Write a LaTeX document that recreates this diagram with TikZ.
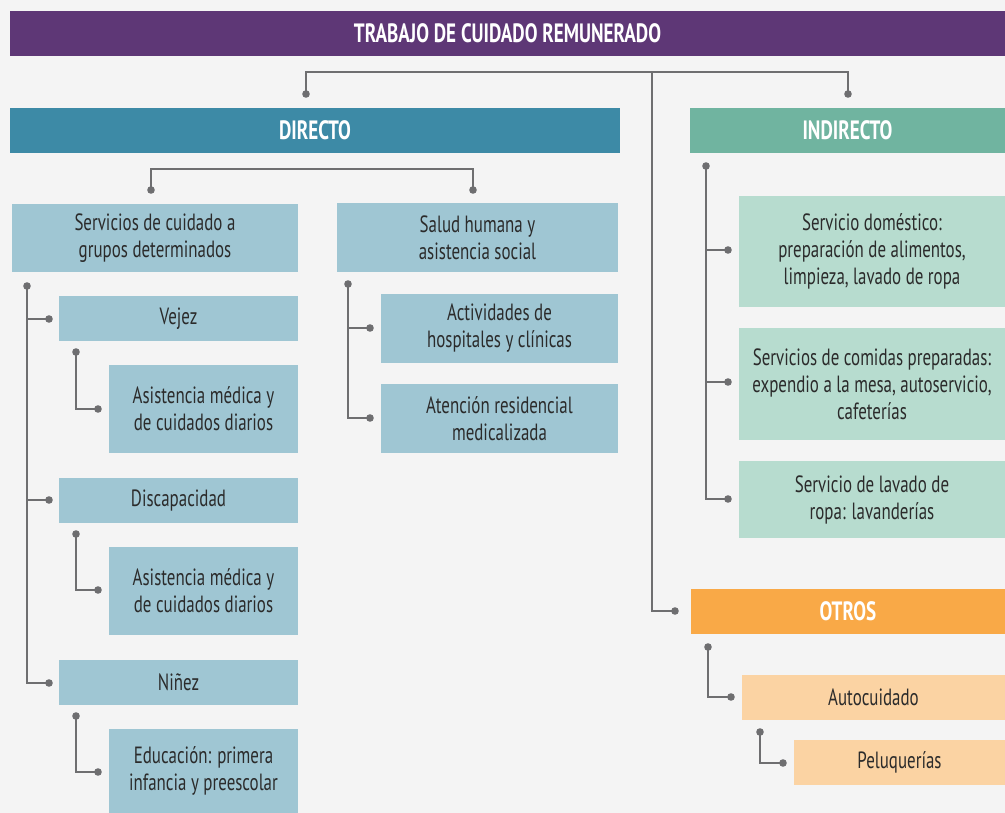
\documentclass[tikz,border=0pt]{standalone}
\usepackage{fontspec}
\setmainfont{PT Sans}[FakeStretch=0.72]
\usetikzlibrary{positioning}
\definecolor{bgc}{HTML}{F4F4F4}
\definecolor{purp}{HTML}{5E3776}
\definecolor{dirc}{HTML}{3D8AA6}
\definecolor{indc}{HTML}{70B4A0}
\definecolor{lblue}{HTML}{9FC6D3}
\definecolor{lgreen}{HTML}{B7DCCF}
\definecolor{orng}{HTML}{F9A947}
\definecolor{lorng}{HTML}{FBD3A3}
\definecolor{linec}{HTML}{6E6E70}
\definecolor{txtc}{HTML}{2B2B2B}
\tikzset{
  basebox/.style={inner sep=0pt, align=center, font=\fontsize{23.5}{27}\selectfont, text=txtc},
  headbox/.style={basebox, text=white, font=\bfseries\fontsize{26.5}{30}\selectfont},
  conn/.style={draw=linec, line width=2pt},
  dotc/.style={fill=linec},
}
\newcommand{\dotat}[1]{\fill[dotc] (#1) circle (3.8);}
\begin{document}
\begin{tikzpicture}[x=1pt,y=-1pt]
\fill[bgc] (0,0) rectangle (1005,813);
\useasboundingbox (0,0) rectangle (1005,813);

% boxes
\node[headbox, fill=purp, minimum width=995, minimum height=45] (title) at (507.5,33.5) {TRABAJO DE CUIDADO REMUNERADO};
\node[headbox, fill=dirc, minimum width=610, minimum height=45] (dir) at (315,130.5) {DIRECTO};
\node[headbox, fill=indc, minimum width=315, minimum height=45] (ind) at (847.5,130.5) {INDIRECTO};
\node[headbox, fill=orng, minimum width=314, minimum height=45] (otr) at (848,611.5) {OTROS};

\node[basebox, fill=lblue, minimum width=286, minimum height=68] (scg) at (155,238) {Servicios de cuidado a\\grupos determinados};
\node[basebox, fill=lblue, minimum width=281, minimum height=69] (sal) at (477.5,237.5) {Salud humana y\\asistencia social};
\node[basebox, fill=lblue, minimum width=239, minimum height=45] (vej) at (178.5,318.5) {Vejez};
\node[basebox, fill=lblue, minimum width=189, minimum height=88] (vejs) at (203.5,409) {Asistencia médica y\\de cuidados diarios};
\node[basebox, fill=lblue, minimum width=239, minimum height=45] (dis) at (178.5,500.5) {Discapacidad};
\node[basebox, fill=lblue, minimum width=189, minimum height=88] (diss) at (203.5,591) {Asistencia médica y\\de cuidados diarios};
\node[basebox, fill=lblue, minimum width=239, minimum height=45] (nin) at (178.5,682.5) {Niñez};
\node[basebox, fill=lblue, minimum width=189, minimum height=84] (nins) at (203.5,771) {Educación: primera\\infancia y preescolar};
\node[basebox, fill=lblue, minimum width=237, minimum height=69] (act) at (499.5,328.5) {Actividades de\\hospitales y clínicas};
\node[basebox, fill=lblue, minimum width=237, minimum height=69] (ate) at (499.5,418.5) {Atención residencial\\medicalizada};

\node[basebox, fill=lgreen, minimum width=266, minimum height=111] (i1) at (872,251.5) {Servicio doméstico:\\preparación de alimentos,\\limpieza, lavado de ropa};
\node[basebox, fill=lgreen, minimum width=266, minimum height=112] (i2) at (872,384) {Servicios de comidas preparadas:\\expendio a la mesa, autoservicio,\\cafeterías};
\node[basebox, fill=lgreen, minimum width=266, minimum height=77] (i3) at (872,499.5) {Servicio de lavado de\\ropa: lavanderías};

\node[basebox, fill=lorng, minimum width=263, minimum height=45] (aut) at (873.5,697.5) {Autocuidado};
\node[basebox, fill=lorng, minimum width=211, minimum height=45] (pel) at (899.5,762.5) {Peluquerías};

% coordinates
\coordinate (tL) at (306,72);
\coordinate (tR) at (848,72);
\coordinate (tM) at (652,72);
\coordinate (dDir) at (306,94);
\coordinate (dInd) at (848,94);
\coordinate (dOtr) at (675,611);

\coordinate (dL) at (151,169);
\coordinate (dR) at (473,169);
\coordinate (dScg) at (151,190);
\coordinate (dSal) at (473,190);

\coordinate (sTop) at (27,286);
\coordinate (dVej) at (49,319);
\coordinate (dDis) at (49,500);
\coordinate (dNin) at (49,683);
\coordinate (vTop) at (76,352);
\coordinate (dVejs) at (98,409);
\coordinate (disTop) at (76,534);
\coordinate (dDiss) at (98,590);
\coordinate (ninTop) at (76,716);
\coordinate (dNins) at (98,772);

\coordinate (saTop) at (348,284);
\coordinate (dAct) at (370,328);
\coordinate (dAte) at (370,418);

\coordinate (iTop) at (706,166);
\coordinate (dI1) at (728,250);
\coordinate (dI2) at (728,382);
\coordinate (dI3) at (728,499);

\coordinate (oTop) at (708,647);
\coordinate (dAut) at (731,697);
\coordinate (aTop) at (760,732);
\coordinate (dPel) at (783,763);

% connectors
\draw[conn] (dDir) -- (tL) -- (tR) -- (dInd);
\draw[conn] (tM) |- (dOtr);
\draw[conn] (dScg) -- (dL) -- (dR) -- (dSal);
\draw[conn] (sTop) |- (dNin);
\draw[conn] (sTop |- dVej) -- (dVej);
\draw[conn] (sTop |- dDis) -- (dDis);
\draw[conn] (vTop) |- (dVejs);
\draw[conn] (disTop) |- (dDiss);
\draw[conn] (ninTop) |- (dNins);
\draw[conn] (saTop) |- (dAte);
\draw[conn] (saTop |- dAct) -- (dAct);
\draw[conn] (iTop) |- (dI3);
\draw[conn] (iTop |- dI1) -- (dI1);
\draw[conn] (iTop |- dI2) -- (dI2);
\draw[conn] (oTop) |- (dAut);
\draw[conn] (aTop) |- (dPel);

\foreach \p in {dDir,dInd,dOtr,dScg,dSal,sTop,dVej,dDis,dNin,vTop,dVejs,disTop,dDiss,ninTop,dNins,saTop,dAct,dAte,iTop,dI1,dI2,dI3,oTop,dAut,aTop,dPel} {\dotat{\p}}
\end{tikzpicture}
\end{document}
